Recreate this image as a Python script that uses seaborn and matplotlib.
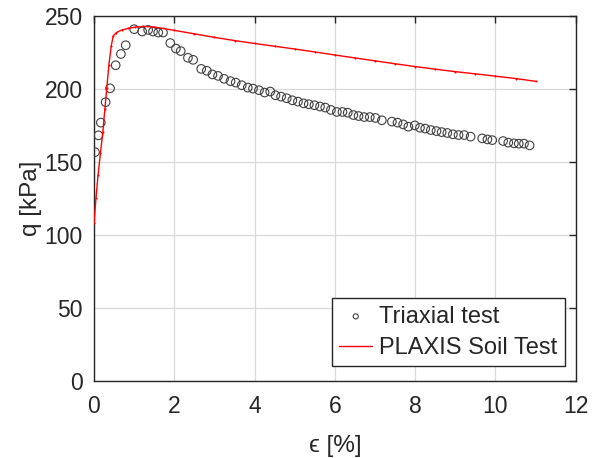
import matplotlib
matplotlib.use("Agg")
import matplotlib.pyplot as plt
import seaborn as sns
import pandas as pd

# Triaxial test data (strain %, q kPa)
tri_eps = [0.025, 0.11, 0.17, 0.29, 0.40, 0.54, 0.67, 0.79, 1.00, 1.20, 1.35, 1.47, 1.60, 1.72,
           1.90, 2.04, 2.16, 2.34, 2.47, 2.67, 2.81, 2.95, 3.09, 3.24, 3.40, 3.53, 3.68, 3.83,
           3.96, 4.11, 4.25, 4.39, 4.52, 4.66, 4.80, 4.94, 5.08, 5.22, 5.35, 5.49, 5.63, 5.76,
           5.90, 6.05, 6.19, 6.32, 6.46, 6.59, 6.73, 6.87, 7.01, 7.17, 7.42, 7.56, 7.70, 7.83,
           7.99, 8.12, 8.25, 8.39, 8.53, 8.66, 8.80, 8.94, 9.08, 9.22, 9.38, 9.67, 9.80, 9.92,
           10.19, 10.32, 10.46, 10.58, 10.71, 10.85]
tri_q = [156.8, 168.3, 177.0, 191.0, 200.5, 216.3, 224.0, 230.0, 241.0, 239.4, 240.5, 239.4, 238.7, 238.7,
         231.5, 227.7, 226.0, 221.4, 220.0, 213.8, 212.5, 210.0, 209.0, 207.0, 205.4, 204.4, 202.6, 201.0,
         200.3, 199.2, 197.6, 198.3, 195.7, 194.8, 193.7, 192.3, 191.4, 190.2, 189.6, 188.9, 188.0, 187.3,
         185.7, 184.3, 184.3, 183.8, 182.2, 181.5, 180.8, 180.8, 180.2, 178.6, 177.7, 177.0, 175.8, 174.2,
         175.1, 173.5, 172.9, 171.9, 171.2, 170.5, 169.9, 169.0, 168.5, 168.5, 167.4, 166.2, 165.5, 165.0,
         164.4, 163.3, 162.8, 162.6, 162.6, 161.4]

# PLAXIS Soil Test curve
plx_eps = [0.0, 0.05, 0.10, 0.16, 0.22, 0.27, 0.32, 0.37, 0.43, 0.48, 0.56, 0.69, 0.85, 1.02, 1.22,
           1.50, 2.0, 2.5, 3.0, 3.5, 4.0, 4.5, 5.0, 5.5, 6.0, 6.5, 7.0, 7.5, 8.0, 8.5, 9.0, 9.5,
           10.0, 10.5, 11.0]
plx_q = [108.0, 125.5, 140.8, 155.9, 170.5, 186.0, 201.0, 216.3, 229.6, 236.5, 238.7, 240.4, 241.5, 242.4, 242.9,
         242.5, 240.2, 237.8, 235.4, 233.2, 231.2, 229.3, 227.4, 225.4, 223.3, 221.3, 219.3, 217.3, 215.4, 213.6,
         211.9, 210.4, 208.8, 207.2, 205.3]

x_ticks = [0, 2, 4, 6, 8, 10, 12]
y_ticks = [0, 50, 100, 150, 200, 250]

sns.set_theme(style="white")
plt.rcParams['font.family'] = ['Liberation Sans', 'DejaVu Sans']
plt.rcParams['xtick.direction'] = 'in'
plt.rcParams['ytick.direction'] = 'in'

fig = plt.figure(figsize=(6.01, 4.58), dpi=100)
ax = fig.add_axes([0.1564, 0.168, 0.8016, 0.797])

tri = pd.DataFrame({"eps": tri_eps, "q": tri_q})
plx = pd.DataFrame({"eps": plx_eps, "q": plx_q})

sns.scatterplot(data=tri, x="eps", y="q", ax=ax, marker="o", s=38,
                facecolors="none", edgecolor="#404040", linewidth=0.8,
                label="Triaxial test", zorder=3)
sns.lineplot(data=plx, x="eps", y="q", ax=ax, color="#ff0000", linewidth=1.0,
             marker=".", markersize=3, markeredgewidth=0, sort=False,
             label="PLAXIS Soil Test", zorder=4)

ax.set_xlim(0, 12)
ax.set_ylim(0, 250)
ax.set_xticks(x_ticks)
ax.set_yticks(y_ticks)
ax.grid(True, color="#d9d9d9", linewidth=0.9)
ax.set_axisbelow(True)
for s in ax.spines.values():
    s.set_color("#262626")
    s.set_linewidth(1.0)
ax.tick_params(axis="both", which="both", direction="in", top=True, right=True,
               length=5, width=1.0, color="#262626", labelsize=16.5, labelcolor="#262626")
ax.tick_params(axis="x", pad=10)
ax.tick_params(axis="y", pad=8)
ax.set_xlabel("ϵ [%]", fontsize=17.5, color="#262626", labelpad=12)
ax.set_ylabel("q [kPa]", fontsize=17.5, color="#262626", labelpad=2)

leg = ax.legend(loc="lower right", bbox_to_anchor=(0.977, 0.041), fontsize=17, frameon=True,
                fancybox=False, edgecolor="#262626", framealpha=1, borderpad=0.3,
                handlelength=1.4, handletextpad=0.3, labelspacing=0.4, borderaxespad=0,
                markerscale=0.6)
leg.get_frame().set_linewidth(1.0)

fig.savefig("out.png", dpi=100)
